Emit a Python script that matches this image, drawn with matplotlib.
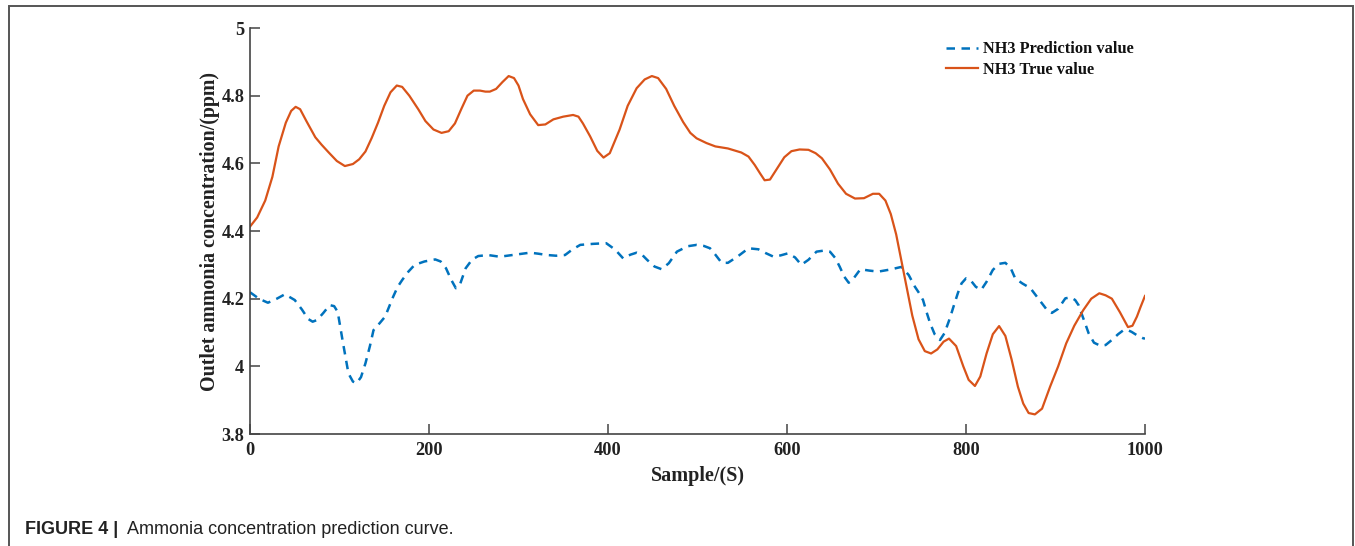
import matplotlib
matplotlib.use("Agg")
from matplotlib import pyplot as plt
from matplotlib.patches import Rectangle

# True value
true_x = [0, 8, 17, 25, 32, 40, 46, 51, 56, 63, 73, 80, 88, 97, 106, 115, 122, 129,
          136, 143, 150, 157, 164, 170, 178, 188, 196, 205, 214, 222, 229, 236, 243,
          250, 257, 263, 268, 275, 282, 289, 295, 300, 305, 313, 322, 330, 339, 350,
          361, 367, 372, 380, 388, 395, 402, 413, 422, 432, 441, 449, 456, 465, 474,
          484, 492, 499, 510, 520, 534, 549, 557, 564, 570, 575, 581, 589, 597, 605,
          614, 624, 632, 639, 648, 657, 666, 676, 686, 696, 703, 710, 716, 722, 728,
          734, 740, 747, 754, 761, 768, 775, 781, 789, 797, 803, 810, 816, 823, 830,
          837, 844, 851, 858, 864, 870, 877, 885, 894, 903, 912, 921, 931, 940, 949,
          956, 963, 972, 981, 986, 991, 995, 1000]
true_y = [4.413, 4.44, 4.49, 4.56, 4.65, 4.72, 4.755, 4.767, 4.76, 4.725, 4.677, 4.655,
          4.632, 4.607, 4.592, 4.598, 4.612, 4.635, 4.675, 4.72, 4.77, 4.81, 4.83, 4.826,
          4.8, 4.76, 4.725, 4.7, 4.69, 4.695, 4.718, 4.76, 4.8, 4.815, 4.815, 4.812,
          4.812, 4.82, 4.84, 4.858, 4.852, 4.83, 4.79, 4.745, 4.713, 4.715, 4.73, 4.738,
          4.743, 4.738, 4.718, 4.68, 4.637, 4.617, 4.63, 4.7, 4.77, 4.822, 4.848, 4.858,
          4.852, 4.82, 4.77, 4.722, 4.69, 4.674, 4.66, 4.65, 4.644, 4.632, 4.62, 4.595,
          4.57, 4.55, 4.552, 4.585, 4.618, 4.636, 4.641, 4.64, 4.63, 4.615, 4.582, 4.54,
          4.51, 4.496, 4.497, 4.51, 4.51, 4.49, 4.45, 4.39, 4.31, 4.23, 4.15, 4.08,
          4.045, 4.038, 4.05, 4.073, 4.082, 4.06, 4.0, 3.96, 3.942, 3.97, 4.038, 4.095,
          4.119, 4.09, 4.02, 3.94, 3.89, 3.862, 3.858, 3.875, 3.94, 4.0, 4.068, 4.12,
          4.166, 4.2, 4.216, 4.21, 4.2, 4.16, 4.116, 4.12, 4.147, 4.175, 4.208]

# Prediction value
pred_x = [0, 10, 20, 30, 39, 50, 58, 65, 70, 75, 82, 89, 94, 98, 104, 110, 115, 119,
          124, 129, 134, 138, 145, 151, 156, 160, 165, 170, 177, 184, 195, 207, 213,
          219, 225, 230, 235, 241, 248, 255, 266, 279, 296, 313, 322, 332, 342, 352,
          360, 369, 383, 398, 408, 417, 425, 432, 438, 444, 452, 460, 468, 477, 489,
          499, 507, 514, 520, 527, 534, 545, 557, 568, 576, 585, 593, 601, 609, 616,
          624, 633, 641, 648, 654, 659, 664, 669, 675, 682, 692, 702, 715, 728, 736,
          743, 748, 752, 756, 760, 765, 771, 776, 782, 786, 791, 795, 800, 805, 811,
          817, 823, 830, 837, 844, 850, 855, 863, 872, 878, 885, 891, 896, 903, 911,
          917, 922, 926, 929, 933, 937, 943, 950, 956, 963, 970, 976, 980, 985, 991,
          998, 1000]
pred_y = [4.219, 4.2, 4.188, 4.2, 4.213, 4.196, 4.168, 4.14, 4.132, 4.137, 4.158,
          4.181, 4.178, 4.161, 4.068, 3.979, 3.955, 3.95, 3.968, 4.009, 4.06, 4.107,
          4.128, 4.147, 4.18, 4.206, 4.235, 4.255, 4.28, 4.3, 4.31, 4.316, 4.31, 4.29,
          4.255, 4.231, 4.245, 4.29, 4.315, 4.326, 4.329, 4.324, 4.33, 4.336, 4.333,
          4.329, 4.327, 4.329, 4.345, 4.359, 4.362, 4.364, 4.345, 4.319, 4.33, 4.336,
          4.33, 4.314, 4.295, 4.287, 4.305, 4.339, 4.355, 4.359, 4.356, 4.349, 4.33,
          4.306, 4.306, 4.325, 4.349, 4.346, 4.335, 4.324, 4.328, 4.334, 4.322, 4.3,
          4.315, 4.339, 4.342, 4.339, 4.32, 4.294, 4.265, 4.247, 4.262, 4.287, 4.283,
          4.28, 4.286, 4.294, 4.27, 4.235, 4.215, 4.196, 4.16, 4.127, 4.095, 4.078,
          4.098, 4.142, 4.176, 4.217, 4.245, 4.26, 4.255, 4.235, 4.226, 4.25, 4.285,
          4.303, 4.306, 4.29, 4.26, 4.245, 4.231, 4.21, 4.186, 4.165, 4.158, 4.17,
          4.201, 4.204, 4.196, 4.18, 4.157, 4.128, 4.098, 4.07, 4.061, 4.063, 4.078,
          4.095, 4.107, 4.108, 4.102, 4.092, 4.083, 4.082]

x_ticks = [0, 200, 400, 600, 800, 1000]
y_ticks = [3.8, 4, 4.2, 4.4, 4.6, 4.8, 5]
y_tick_labels = ["3.8", "4", "4.2", "4.4", "4.6", "4.8", "5"]

plt.rcParams['font.family'] = ['Liberation Serif', 'DejaVu Serif']
plt.rcParams['font.weight'] = 'bold'

fig = plt.figure(figsize=(13.55, 5.46), dpi=100)
ax = fig.add_axes([0.1845, 0.2051, 0.6605, 0.7436])

ax.plot(pred_x, pred_y, color='#0072BD', lw=1.8, dashes=(3.4, 2.6),
        label='NH3 Prediction value')
ax.plot(true_x, true_y, color='#D95319', lw=1.6, label='NH3 True value')

ax.set_xlim(0, 1000)
ax.set_ylim(3.8, 5)
ax.set_xticks(x_ticks)
ax.set_yticks(y_ticks)
ax.set_yticklabels(y_tick_labels)
for s in ['top', 'right']:
    ax.spines[s].set_visible(False)
for s in ['left', 'bottom']:
    ax.spines[s].set_color('#444444')
    ax.spines[s].set_linewidth(1.2)
ax.tick_params(axis='both', direction='in', length=7, width=1.1, color='#444444',
               labelsize=13.2, labelcolor='#222222')
ax.tick_params(axis='y', pad=4)
ax.tick_params(axis='x', pad=6)

ax.set_xlabel("Sample/(S)", fontsize=14.5, fontweight='bold', color='#222222', labelpad=5)
ax.set_ylabel("Outlet ammonia concentration/(ppm)", fontsize=14.4, fontweight='bold',
              color='#222222', labelpad=1)

leg = ax.legend(loc='upper left', bbox_to_anchor=(0.77, 0.983), frameon=False,
                fontsize=11.8, handlelength=2.0, handletextpad=0.3, labelspacing=0.25,
                borderaxespad=0)
for t in leg.get_texts():
    t.set_color('#111111')

# outer frame and caption
fig.patches.append(Rectangle((9 / 1355, -0.05), 1345 / 1355 - 0.0005, 1.05 - 6 / 546,
                             transform=fig.transFigure, fill=False,
                             edgecolor='#555555', lw=1.4))
fig.text(25 / 1355, 1 - 530 / 546, "FIGURE 4 | ", fontsize=13, fontweight='bold',
         family='Liberation Sans', color='#222222', va='center')
fig.text(127 / 1355, 1 - 530 / 546, "Ammonia concentration prediction curve.",
         fontsize=13, fontweight='normal', family='Liberation Sans', color='#222222',
         va='center')

fig.savefig('out.png', dpi=100)
